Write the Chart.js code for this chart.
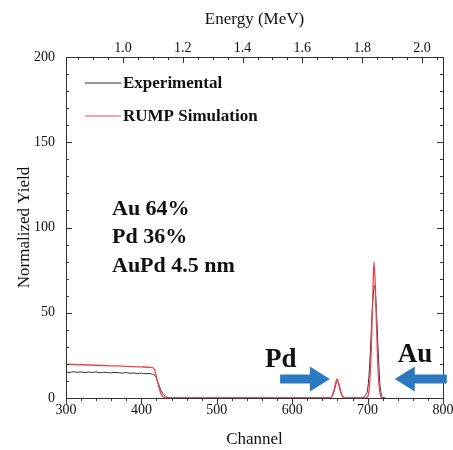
<!DOCTYPE html>
<html>
<head>
<meta charset="utf-8">
<script src="https://cdn.jsdelivr.net/npm/chart.js@4"></script>
<style>
  html, body { margin: 0; padding: 0; background: #fff; }
  canvas { display: block; }
</style>
</head>
<body>
<canvas id="rbsChart" width="453" height="450"></canvas>
<script>
// Experimental spectrum (channel, normalized yield)
const expChannel = [300, 305, 310, 315, 320, 325, 330, 335, 340, 345, 350, 355, 360, 365, 370, 375, 380, 385, 390, 395, 400, 405, 410, 414, 418, 420, 422, 424, 426, 428, 430, 432, 434, 437, 440,
  648, 652, 655, 657, 659, 660, 661, 663, 665, 668, 672,
  690, 694, 697, 700, 702, 704, 706, 708, 709, 710, 712, 714, 716, 718, 720, 724];
const expYield = [15.2, 15.0, 15.4, 15.1, 15.3, 14.9, 15.2, 15.0, 15.3, 14.8, 15.1, 15.0, 14.7, 15.0, 14.8, 14.6, 14.9, 14.5, 14.7, 14.3, 14.6, 14.2, 14.4, 14.0, 13.2, 11.5, 9.0, 6.8, 4.5, 2.8, 1.6, 0.8, 0.4, 0.1, 0,
  0, 0.5, 3, 6.5, 9.5, 10, 9.5, 6.5, 3, 0.5, 0,
  0, 0.3, 1.5, 5, 14, 30, 50, 63, 66, 64, 48, 28, 10, 2.5, 0.3, 0];

// RUMP simulation
const simChannel = [300, 320, 340, 360, 380, 400, 415, 418, 420, 422, 424, 426, 428, 430, 433,
  650, 653, 656, 658, 659, 660, 661, 663, 666, 669,
  698, 701, 703, 705, 707, 708.5, 710, 712, 714, 716, 718, 720];
const simYield = [19.8, 19.5, 19.2, 18.9, 18.6, 18.2, 17.8, 16, 12.5, 8.5, 5, 2.5, 1, 0.3, 0,
  0, 1.5, 5.5, 9.5, 11, 11, 9.5, 5.5, 1.5, 0,
  0, 2, 10, 30, 62, 80, 68, 40, 15, 4, 0.5, 0];

const channelTicks = [300, 400, 500, 600, 700, 800];
const yieldTicks = [0, 50, 100, 150, 200];
const energyTicks = [1.0, 1.2, 1.4, 1.6, 1.8, 2.0];
const energyRange = [0.809, 2.0706]; // energy at channel 300 and 800

const infoLines = ['Au 64%', 'Pd 36%', 'AuPd 4.5 nm'];

const serif = "'Liberation Serif', 'Times New Roman', serif";

function toPoints(xs, ys) {
  return xs.map((x, i) => ({ x: x, y: ys[i] }));
}

// frame, inward/outward tick marks, legend and annotations
const decorPlugin = {
  id: 'decor',
  afterDatasetsDraw(chart) {
    const { ctx, chartArea: a, scales } = chart;
    const sx = scales.x, sy = scales.y, se = scales.x2;
    ctx.save();
    ctx.strokeStyle = '#333';
    ctx.lineWidth = 1;
    ctx.strokeRect(Math.round(a.left) + 0.5, Math.round(a.top) + 0.5,
      Math.round(a.right - a.left), Math.round(a.bottom - a.top));

    ctx.beginPath();
    // bottom channel ticks (outward)
    for (let c = 300; c <= 800; c += 20) {
      const x = Math.round(sx.getPixelForValue(c)) + 0.5;
      const len = c % 100 === 0 ? 6 : 3;
      ctx.moveTo(x, a.bottom); ctx.lineTo(x, a.bottom + len);
    }
    // top energy ticks (inward)
    for (let k = 17; k <= 41; k++) {
      const x = Math.round(se.getPixelForValue(k * 0.05)) + 0.5;
      const len = k % 4 === 0 ? 6 : 3;
      ctx.moveTo(x, a.top); ctx.lineTo(x, a.top + len);
    }
    // left & right yield ticks (inward)
    for (let v = 0; v <= 200; v += 10) {
      const y = Math.round(sy.getPixelForValue(v)) + 0.5;
      const len = v % 50 === 0 ? 6 : 3;
      ctx.moveTo(a.left, y); ctx.lineTo(a.left + len, y);
      ctx.moveTo(a.right, y); ctx.lineTo(a.right - len, y);
    }
    ctx.stroke();

    // legend
    const ds = chart.data.datasets;
    const legY = [a.top + 26, a.top + 59];
    ctx.font = 'bold 17px ' + serif;
    ctx.textBaseline = 'middle';
    ctx.textAlign = 'left';
    ds.forEach((d, i) => {
      ctx.strokeStyle = d.borderColor;
      ctx.lineWidth = 1;
      ctx.beginPath();
      ctx.moveTo(a.left + 19, legY[i]); ctx.lineTo(a.left + 55, legY[i]);
      ctx.stroke();
      ctx.fillStyle = '#111';
      ctx.fillText(d.label, a.left + 57, legY[i] + 1);
    });

    // composition text
    ctx.font = 'bold 22px ' + serif;
    ctx.textBaseline = 'alphabetic';
    const infoX = sx.getPixelForValue(361);
    [107.3, 90.9, 73.9].forEach((v, i) => {
      ctx.fillText(infoLines[i], infoX, sy.getPixelForValue(v));
    });

    // element labels
    ctx.font = 'bold 27px ' + serif;
    ctx.fillText('Pd', sx.getPixelForValue(564), sy.getPixelForValue(18.0));
    ctx.fillText('Au', sx.getPixelForValue(740), sy.getPixelForValue(21.3));

    // block arrows
    function arrow(fromCh, toCh, val) {
      const x0 = sx.getPixelForValue(fromCh), x1 = sx.getPixelForValue(toCh);
      const y = sy.getPixelForValue(val);
      const dir = Math.sign(x1 - x0);
      const headLen = 20, shaft = 4.5, head = 12.5;
      const xh = x1 - dir * headLen;
      ctx.beginPath();
      ctx.moveTo(x0, y - shaft);
      ctx.lineTo(xh, y - shaft);
      ctx.lineTo(xh, y - head);
      ctx.lineTo(x1, y);
      ctx.lineTo(xh, y + head);
      ctx.lineTo(xh, y + shaft);
      ctx.lineTo(x0, y + shaft);
      ctx.closePath();
      ctx.fillStyle = '#2a79c1';
      ctx.fill();
    }
    arrow(584, 650, 11.1);
    arrow(805, 736, 11.1);
    ctx.restore();
  }
};

function noSidePad(s) {
  s.paddingLeft = 0;
  s.paddingRight = 0;
}

new Chart(document.getElementById('rbsChart'), {
  type: 'line',
  data: {
    datasets: [{
      label: 'Experimental',
      data: toPoints(expChannel, expYield),
      borderColor: 'rgb(45, 45, 45)',
      borderWidth: 1,
      pointRadius: 0,
      cubicInterpolationMode: 'monotone',
      order: 2
    }, {
      label: 'RUMP Simulation',
      data: toPoints(simChannel, simYield),
      borderColor: 'rgb(235, 70, 80)',
      borderWidth: 1.3,
      pointRadius: 0,
      cubicInterpolationMode: 'monotone',
      order: 1
    }]
  },
  options: {
    responsive: false,
    animation: false,
    layout: { padding: { left: 0, right: 10, top: 0, bottom: 0 } },
    plugins: {
      legend: { display: false },
      tooltip: { enabled: false }
    },
    scales: {
      x: {
        type: 'linear',
        position: 'bottom',
        min: 300,
        max: 800,
        afterBuildTicks: s => { s.ticks = channelTicks.map(v => ({ value: v })); },
        afterFit: s => { s.height = 52; noSidePad(s); },
        grid: { display: false, drawTicks: false },
        border: { display: false },
        ticks: { color: '#111', padding: 4, font: { family: serif, size: 14 }, maxRotation: 0 },
        title: { display: true, text: 'Channel', color: '#111', padding: 0, font: { family: serif, size: 17 } }
      },
      x2: {
        type: 'linear',
        position: 'top',
        min: energyRange[0],
        max: energyRange[1],
        afterBuildTicks: s => { s.ticks = energyTicks.map(v => ({ value: v })); },
        afterFit: s => { s.height = 57; noSidePad(s); },
        grid: { display: false, drawTicks: false },
        border: { display: false },
        ticks: { color: '#111', padding: 0, font: { family: serif, size: 14 }, maxRotation: 0,
          callback: v => v.toFixed(1) },
        title: { display: true, text: 'Energy (MeV)', color: '#111', padding: { top: 9, bottom: 0 }, font: { family: serif, size: 17 } }
      },
      y: {
        type: 'linear',
        position: 'left',
        min: 0,
        max: 200,
        afterBuildTicks: s => { s.ticks = yieldTicks.map(v => ({ value: v })); },
        afterFit: s => { s.width = 66; },
        grid: { display: false, drawTicks: false },
        border: { display: false },
        ticks: { color: '#111', padding: 11, font: { family: serif, size: 14 } },
        title: { display: true, text: 'Normalized Yield', color: '#111', padding: { top: 14, bottom: 0 }, font: { family: serif, size: 17 } }
      }
    }
  },
  plugins: [decorPlugin]
});
</script>
</body>
</html>
